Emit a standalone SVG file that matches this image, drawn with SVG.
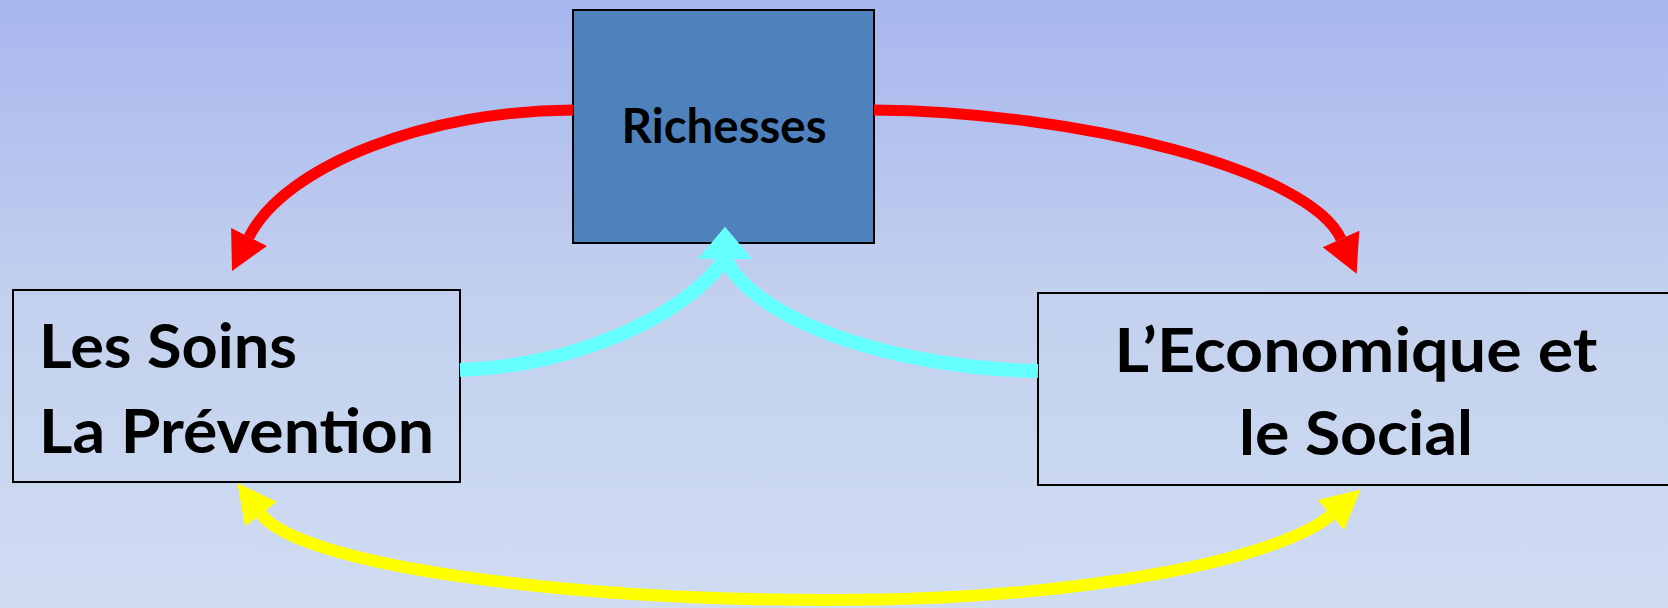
<svg xmlns="http://www.w3.org/2000/svg" width="1668" height="608" viewBox="0 0 1668 608">
  <defs>
    <linearGradient id="bg" x1="0" y1="0" x2="0" y2="1">
      <stop offset="0" stop-color="#A8B6EF"/>
      <stop offset="0.5" stop-color="#C3D1EE"/>
      <stop offset="1" stop-color="#D0DCF2"/>
    </linearGradient>
    <marker id="ahRed" markerUnits="userSpaceOnUse" viewBox="-5 -35 50 70" markerWidth="50" markerHeight="70" refX="0" refY="0" orient="auto">
      <path d="M0,-20 L38,0 L0,20 Z" fill="#FF0000"/>
    </marker>
    <marker id="ahYellow" markerUnits="userSpaceOnUse" viewBox="-5 -35 50 70" markerWidth="50" markerHeight="70" refX="0" refY="0" orient="auto-start-reverse">
      <path d="M0,-20 L39,0 L0,20 Z" fill="#FFFF00"/>
    </marker>
    <marker id="ahCyan" markerUnits="userSpaceOnUse" viewBox="-5 -35 50 70" markerWidth="50" markerHeight="70" refX="0" refY="0" orient="270">
      <path d="M0,-27 L32,0 L0,27 Z" fill="#66FFFF"/>
    </marker>
    <style>
      .box { stroke: #000000; stroke-width: 2; }
      .label { font-family: Lato, "Liberation Sans", sans-serif; font-weight: bold; fill: #000000; }
      .big { font-size: 62px; }
      .small { font-size: 47px; }
      .red { stroke: #FF0000; stroke-width: 11; fill: none; }
      .cyan { stroke: #66FFFF; stroke-width: 14; fill: none; }
      .yellow { stroke: #FFFF00; stroke-width: 12; fill: none; }
    </style>
  </defs>

  <rect x="0" y="0" width="1668" height="608" fill="url(#bg)"/>

  <g id="node-richesses">
    <rect class="box" x="573" y="10" width="301" height="233" fill="#4F81BD"/>
    <text class="label small" x="724" y="143" text-anchor="middle" textLength="205" lengthAdjust="spacingAndGlyphs">Richesses</text>
  </g>

  <g id="node-soins">
    <rect class="box" x="13" y="290" width="447" height="192" fill="none"/>
    <text class="label big" x="39" y="368" textLength="258" lengthAdjust="spacingAndGlyphs">Les Soins</text>
    <text class="label big" x="39" y="453" textLength="395" lengthAdjust="spacingAndGlyphs">La Prévention</text>
  </g>

  <g id="node-economique">
    <rect class="box" x="1038" y="293" width="640" height="192" fill="none"/>
    <text class="label big" x="1356" y="372" text-anchor="middle" textLength="483" lengthAdjust="spacingAndGlyphs">L’Economique et</text>
    <text class="label big" x="1356" y="455" text-anchor="middle" textLength="234" lengthAdjust="spacingAndGlyphs">le Social</text>
  </g>

  <g id="connectors">
    <path class="red" d="M573,110 C430,110 285,165 249,237" marker-end="url(#ahRed)"/>
    <path class="red" d="M874,110 C1080,112 1310,170 1341,239" marker-end="url(#ahRed)"/>
    <path class="cyan" d="M460,370 C570,366 680,320 725,259" marker-end="url(#ahCyan)"/>
    <path class="cyan" d="M1038,371 C900,368 760,325 725,259" marker-end="url(#ahCyan)"/>
    <path class="yellow" d="M261,514 C300,565 560,600 830,600 C1100,600 1285,555 1331,515" marker-start="url(#ahYellow)" marker-end="url(#ahYellow)"/>
  </g>
</svg>
